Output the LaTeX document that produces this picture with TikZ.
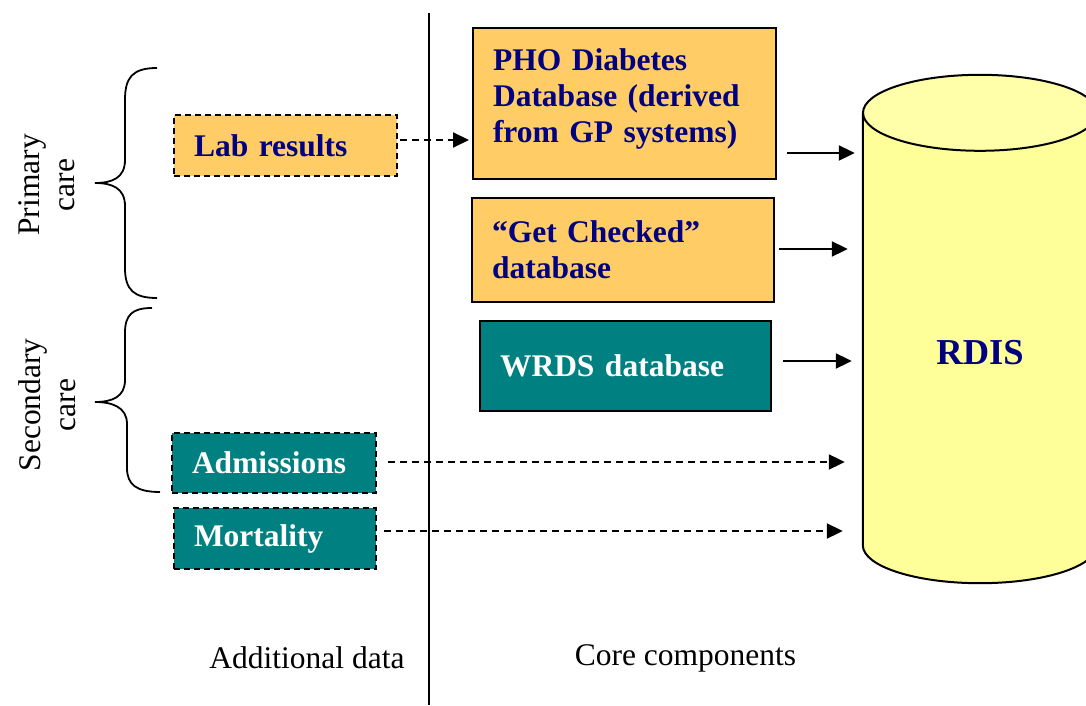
\documentclass[tikz,border=0pt]{standalone}
\usepackage{fontspec}
\setmainfont{Liberation Serif}
\usetikzlibrary{arrows.meta}
\definecolor{boxorange}{HTML}{FFCC66}
\definecolor{boxteal}{HTML}{008080}
\definecolor{navytext}{HTML}{000080}
\definecolor{dbyellow}{HTML}{FFFF99}
\definecolor{dbtop}{HTML}{FFFFAA}
\tikzset{
  base/.style={rectangle, line width=2pt, inner xsep=20pt, inner ysep=0pt, align=left, font=\fontsize{31.5}{36}\selectfont\bfseries},
  solidbox/.style={base, draw},
  dashbox/.style={base, draw, dash pattern=on 6pt off 4pt},
  orangebox/.style={fill=boxorange, text=navytext},
  tealbox/.style={fill=boxteal, text=white},
  arr/.style={line width=2pt, -{Triangle[length=16pt,width=15pt]}},
  dasharr/.style={arr, dash pattern=on 7pt off 5pt},
  plain/.style={font=\fontsize{31.5}{35}\selectfont},
  bracestyle/.style={line width=1.8pt},
}
\begin{document}
\begin{tikzpicture}[x=1pt,y=1pt]
\useasboundingbox (0,0) rectangle (1086,705);
\clip (0,0) rectangle (1086,705);

% divider
\draw[line width=2pt] (429,692) -- (429,0);

% boxes
\node[dashbox, orangebox, text width=183pt, minimum height=61pt] (lab) at (285.5,559.5) {Lab results};
\node[solidbox, orangebox, text width=263pt, minimum height=151pt] (pho) at (624.5,601.5) {PHO Diabetes\\Database (derived\\from GP systems)\\[-21pt]\mbox{}};
\node[solidbox, orangebox, text width=262pt, minimum height=104pt] (get) at (623,455) {“Get Checked”\\database};
\node[solidbox, tealbox, text width=251pt, minimum height=90pt] (wrds) at (625.5,339) {WRDS database};
\node[dashbox, tealbox, text width=164pt, minimum height=60pt] (adm) at (274,242) {Admissions};
\node[dashbox, tealbox, text width=162pt, minimum height=61pt] (mort) at (275,166.5) {Mortality};

% database cylinder
\node[minimum width=234pt, minimum height=432pt, inner sep=0pt] (db) at (980,376) {};
\fill[dbyellow] (db.north west) -- (db.south west) arc[start angle=180, end angle=360, x radius=117pt, y radius=38pt] -- (db.north east) -- cycle;
\draw[line width=2pt] (db.north west) -- (db.south west) arc[start angle=180, end angle=360, x radius=117pt, y radius=38pt] -- (db.north east);
\draw[line width=2pt, fill=dbtop] (db.north) ellipse[x radius=117pt, y radius=38pt];
\node[font=\fontsize{36.5}{40}\selectfont\bfseries, text=navytext] (rdis) at (980,352) {RDIS};

% connectors
\draw[dasharr, shorten <=2pt, shorten >=3pt] (lab.east |- 0,565) -- (pho.west |- 0,565);
\draw[arr, shorten <=10pt, shorten >=8pt] (pho.east |- 0,552) -- (db.west |- 0,552);
\draw[arr, shorten <=4pt, shorten >=15pt] (get.east |- 0,456) -- (db.west |- 0,456);
\draw[arr, shorten <=11pt, shorten >=11pt] (wrds.east |- 0,344) -- (db.west |- 0,344);
\draw[dasharr, shorten <=11pt, shorten >=18pt] (adm.east |- 0,243) -- (db.west |- 0,243);
\draw[dasharr, shorten <=7pt, shorten >=20pt] (mort.east |- 0,174) -- (db.west |- 0,174);

% braces
\draw[bracestyle] (157,637) .. controls (132,637) and (125,627) .. (125,605) -- (125,545) .. controls (125,527) and (112,522) .. (95,522) .. controls (112,522) and (125,517) .. (125,499) -- (125,437) .. controls (125,415) and (134,407) .. (157,407);
\draw[bracestyle] (152,397) .. controls (132,397) and (125,390) .. (125,372) -- (125,325) .. controls (125,308) and (112,303) .. (95,303) .. controls (112,303) and (127,298) .. (127,281) -- (127,237) .. controls (127,220) and (137,213) .. (160,213);

% side labels
\node[plain, rotate=90, align=center] (prim) at (47,520) {Primary\\care};
\node[plain, rotate=90, align=center] (sec) at (47,300) {Secondary\\care};

% bottom labels
\node[plain] (addl) at (307,47) {Additional data};
\node[plain] (core) at (685.5,47) {Core components};
\end{tikzpicture}
\end{document}
